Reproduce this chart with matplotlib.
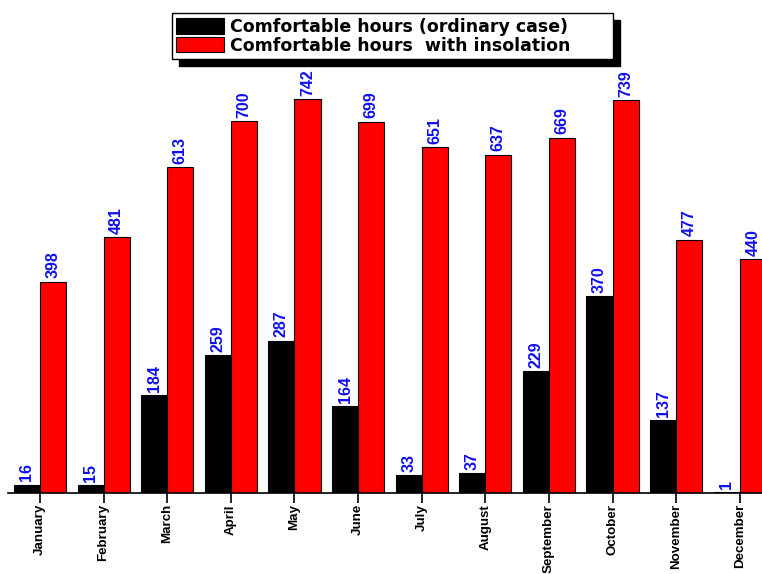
import numpy as np
import matplotlib
matplotlib.use("Agg")
import matplotlib.pyplot as plt

months = ["January", "February", "March", "April", "May", "June", "July",
          "August", "September", "October", "November", "December"]
ordinary = [16, 15, 184, 259, 287, 164, 33, 37, 229, 370, 137, 1]
insolation = [398, 481, 613, 700, 742, 699, 651, 637, 669, 739, 477, 440]

fig = plt.figure(figsize=(7.62, 5.74), dpi=100)
ax = fig.add_axes([8 / 762, 81 / 574, 1 - 8 / 762, 1 - 81 / 574])

x = np.arange(len(months))
w = 0.41
b1 = ax.bar(x - w / 2, ordinary, w, color="black", edgecolor="black", linewidth=0.8,
            label="Comfortable hours (ordinary case)")
b2 = ax.bar(x + w / 2, insolation, w, color="#ff0000", edgecolor="black", linewidth=0.8,
            label="Comfortable hours  with insolation")

# value labels above each bar
for bars, vals in [(b1, ordinary), (b2, insolation)]:
    for r, v in zip(bars, vals):
        ax.text(r.get_x() + r.get_width() / 2, v + 6, str(v), rotation=90,
                ha="center", va="bottom", color="#1010ee", fontsize=11.5,
                fontweight="bold", family="Liberation Sans")

ax.set_xlim(-0.503, 11.35)
ax.set_ylim(0, 928)
ax.set_xticks(x)
ax.set_xticklabels(months, rotation=90, fontsize=9.6, fontweight="bold",
                   family="Liberation Sans")
ax.tick_params(axis="x", length=7, width=1.2, pad=1)
ax.set_yticks([])
for s in ["top", "right", "left"]:
    ax.spines[s].set_visible(False)
ax.spines["bottom"].set_linewidth(1.2)

# legend box stretched to the width seen in the original
leg = fig.legend(loc="center", bbox_to_anchor=(172 / 762, 0.937, 441 / 762, 0.0),
                 mode="expand", ncol=1, borderaxespad=0,
                 frameon=True, fancybox=False, edgecolor="black",
                 shadow={"color": "black", "alpha": 1, "ox": 5, "oy": -5},
                 handlelength=2.75, handleheight=1.0, handletextpad=0.35,
                 borderpad=0.25, labelspacing=0.05,
                 prop={"weight": "bold", "size": 12.5, "family": "DejaVu Sans"})
leg.get_frame().set_linewidth(1.0)

fig.savefig("out.png", dpi=100)
